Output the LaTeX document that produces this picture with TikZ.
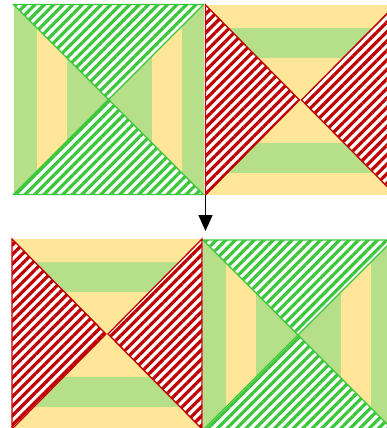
\documentclass[tikz,border=0pt]{standalone}
\usepackage{tikz}
\usetikzlibrary{arrows.meta,patterns.meta}

\definecolor{leaf}{RGB}{181,223,136}
\definecolor{sand}{RGB}{255,230,153}
\definecolor{grassline}{RGB}{58,200,58}
\definecolor{brick}{RGB}{192,0,0}

\begin{document}
\begin{tikzpicture}[x=1pt, y=1pt,
  hatch/.style={preaction={fill=white},
    pattern={Lines[angle=45, distance=6.7pt, line width=3.2pt]},
    line width=1.3pt, line join=miter},
  greenhatch/.style={hatch, draw=grassline, pattern color=grassline},
  redhatch/.style={hatch, draw=brick, pattern color=brick},
  arr/.style={-{Triangle[length=16pt, width=14pt]}, line width=1.6pt}
]
\useasboundingbox (0,0) rectangle (387,-428);
\clip (0,0) rectangle (387,-428);
% top left corners of the four tiles
\coordinate (tl) at (13.5,-4.5);
\coordinate (tr) at (205.5,-5);
\coordinate (bl) at (12,-239);
\coordinate (br) at (203,-240);
% tiles with vertical bands and green triangles
\foreach \c in {tl,br}{
  \begin{scope}[shift={(\c)}]
    \fill[leaf] (0,0) rectangle (190,-190);
    \fill[sand] (23,0) rectangle (53,-190);
    \fill[sand] (138,0) rectangle (168,-190);
    \draw[greenhatch] (0,0) -- (190,0) -- (95,-95) -- cycle;
    \draw[greenhatch] (0,-190) -- (190,-190) -- (95,-95) -- cycle;
  \end{scope}
}
% tiles with horizontal bands and red triangles
\foreach \c in {tr,bl}{
  \begin{scope}[shift={(\c)}]
    \fill[sand] (0,0) rectangle (190,-190);
    \fill[leaf] (0,-23) rectangle (190,-53);
    \fill[leaf] (0,-138) rectangle (190,-168);
    \draw[redhatch] (0,0) -- (0,-190) -- (94,-95) -- cycle;
    \draw[redhatch] (190,0) -- (190,-190) -- (96,-95) -- cycle;
  \end{scope}
}
% arrow between the rows
\coordinate (from) at (205.5,-195);
\coordinate (to) at (205.5,-231);
\draw[arr] (from) -- (to);
\end{tikzpicture}
\end{document}
